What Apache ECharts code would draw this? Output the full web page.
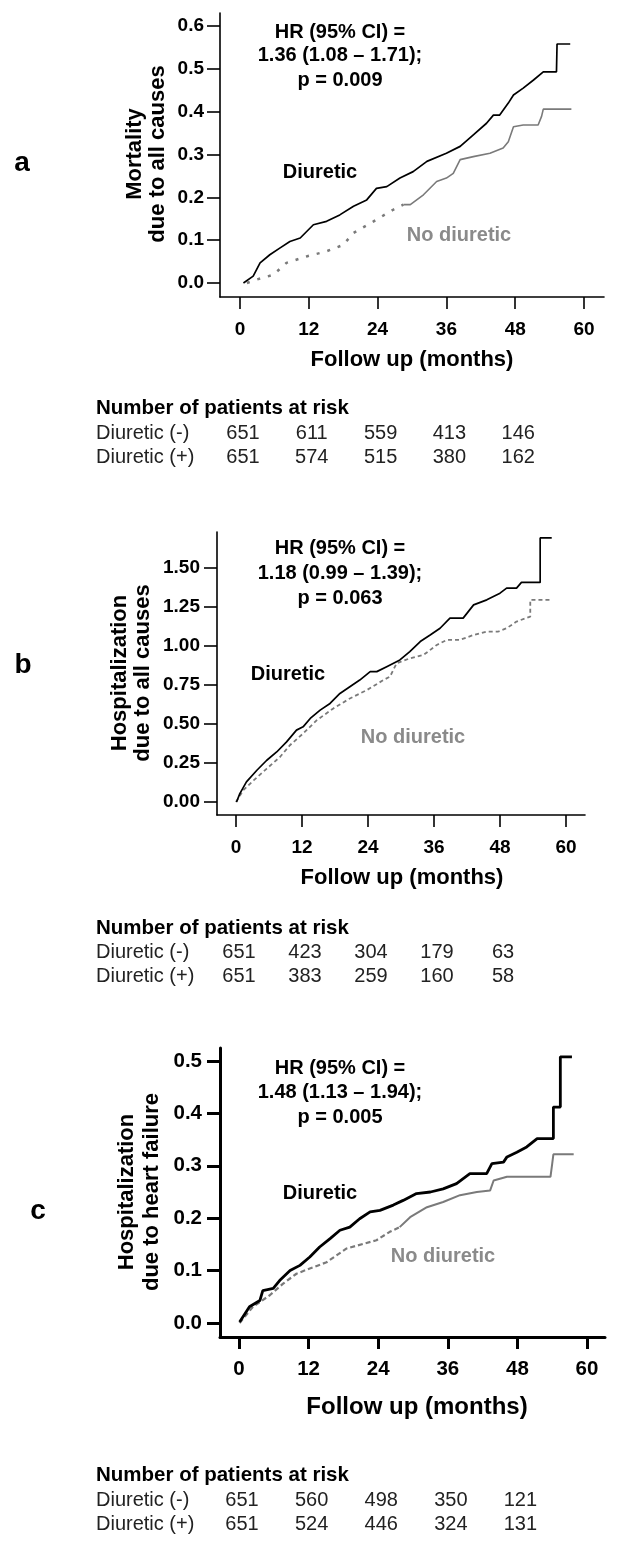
<!DOCTYPE html>
<html><head><meta charset="utf-8">
<script src="https://cdn.jsdelivr.net/npm/echarts@6/dist/echarts.min.js"></script>
<style>html,body{margin:0;padding:0;background:#fff}#c{width:630px;height:1551px}</style>
</head><body><div id="c"></div>
<script>
// ---------- tick values ----------
const months = [0, 12, 24, 36, 48, 60];
const yTicksA = [0, 0.1, 0.2, 0.3, 0.4, 0.5, 0.6];
const yTicksB = [0, 0.25, 0.5, 0.75, 1.0, 1.25, 1.5];
const yTicksC = [0, 0.1, 0.2, 0.3, 0.4, 0.5];
const riskMonths = [0, 12, 24, 36, 48];

// ---------- panel a: mortality ----------
const aDiurT = [0.6,2.3,3.5,5.2,7.0,8.7,10.5,12.8,15.1,17.4,19.8,22.1,23.8,25.6,27.9,30.2,32.6,36.0,38.4,40.7,43.0,44.2,45.3,46.8,47.7,49.4,51.2,52.9,55.2,55.3,57.6];
const aDiurY = [0,0.016,0.047,0.066,0.082,0.097,0.105,0.136,0.144,0.159,0.179,0.194,0.221,0.225,0.245,0.260,0.284,0.303,0.319,0.346,0.373,0.392,0.392,0.420,0.439,0.455,0.474,0.493,0.493,0.558,0.558];
const aNoEarlyT = [1.2,2.9,5.8,8.1,11.6,15.1,18.0,19.8,23.3,26.7,28.5];
const aNoEarlyY = [0,0.008,0.019,0.047,0.062,0.074,0.089,0.117,0.144,0.171,0.183];
const aNoLateT = [28.5,29.7,32.0,34.3,36.0,37.2,38.4,40.7,43.6,45.9,46.8,47.7,49.4,52.0,52.6,52.9,57.8];
const aNoLateY = [0.183,0.183,0.206,0.237,0.245,0.256,0.288,0.295,0.303,0.315,0.330,0.365,0.369,0.369,0.389,0.406,0.406];
const riskA_neg = [651, 611, 559, 413, 146];
const riskA_pos = [651, 574, 515, 380, 162];

// ---------- panel b: hospitalization all causes ----------
const bDiurT = [0.1,0.7,1.9,3.8,5.6,7.4,9.2,11.0,12.2,13.5,15.3,17.1,18.9,20.7,22.5,24.4,25.6,27.4,29.8,31.6,33.5,35.3,37.1,38.9,41.3,43.2,45.6,48.0,49.2,51.0,51.9,55.3,55.3,57.4];
const bDiurY = [0,0.054,0.129,0.204,0.268,0.321,0.386,0.461,0.482,0.536,0.589,0.632,0.696,0.739,0.782,0.836,0.836,0.868,0.911,0.964,1.029,1.071,1.114,1.179,1.179,1.264,1.296,1.339,1.371,1.371,1.408,1.408,1.693,1.693];
const bNoT = [0,1.3,3.2,5.6,8.0,9.8,12.2,14.7,17.7,20.7,23.8,26.8,28.0,29.2,31.6,34.1,36.5,38.3,40.7,43.2,45.6,47.7,49.2,51.0,53.5,53.5,57.1];
const bNoY = [0,0.075,0.139,0.214,0.289,0.364,0.439,0.525,0.600,0.664,0.718,0.782,0.804,0.889,0.921,0.943,1.007,1.039,1.039,1.071,1.093,1.093,1.114,1.157,1.189,1.296,1.296];
const riskB_neg = [651, 423, 304, 179, 63];
const riskB_pos = [651, 383, 259, 160, 58];

// ---------- panel c: hospitalization heart failure ----------
const cDiurT = [0.1,1.8,3.6,4.1,5.9,7.0,8.8,10.5,12.2,13.9,15.7,17.4,19.1,20.8,22.6,24.3,26.6,28.3,30.6,33.0,35.2,37.5,39.8,42.7,43.6,45.6,46.2,47.9,49.6,51.4,54.2,54.2,55.4,55.4,57.4];
const cDiurY = [0.002,0.031,0.043,0.062,0.066,0.081,0.100,0.110,0.126,0.145,0.161,0.177,0.183,0.199,0.212,0.215,0.225,0.234,0.247,0.250,0.256,0.266,0.285,0.285,0.304,0.307,0.317,0.326,0.336,0.352,0.352,0.412,0.412,0.508,0.508];
const cNoEarlyT = [0.1,2.4,5.3,7.6,9.9,12.2,15.1,18.5,21.4,23.7,26.0,27.7];
const cNoEarlyY = [0,0.031,0.053,0.075,0.094,0.104,0.116,0.142,0.151,0.158,0.174,0.183];
const cNoLateT = [27.7,29.5,32.4,35.2,38.1,41.0,43.3,43.9,46.2,53.7,54.0,54.2,57.7];
const cNoLateY = [0.183,0.202,0.221,0.231,0.244,0.250,0.253,0.272,0.279,0.279,0.304,0.322,0.322];
const riskC_neg = [651, 560, 498, 350, 121];
const riskC_pos = [651, 524, 446, 324, 131];

const rowLabels = ['Diuretic (-)', 'Diuretic (+)'];
const riskTitle = 'Number of patients at risk';

// ---------- build ----------
const FONT = '"Liberation Sans", Arial, Helvetica, sans-serif';
const zip = (t, y) => t.map((v, i) => [v, y[i]]);
const chart = echarts.init(document.getElementById('c'));

function xAxisCfg(g, min, max, lw, fs, margin) {
  return { type: 'value', gridIndex: g, min, max, splitLine: { show: false },
    axisLine: { show: true, onZero: false, lineStyle: { color: '#000', width: lw } },
    axisTick: { show: true, customValues: months, length: 12, lineStyle: { color: '#000', width: lw } },
    axisLabel: { customValues: months, margin, color: '#000', fontFamily: FONT, fontWeight: 'bold', fontSize: fs } };
}
function yAxisCfg(g, min, max, ticks, dec, lw, fs, margin) {
  return { type: 'value', gridIndex: g, min, max, splitLine: { show: false },
    axisLine: { show: true, onZero: false, lineStyle: { color: '#000', width: lw } },
    axisTick: { show: true, customValues: ticks, length: 13, lineStyle: { color: '#000', width: lw } },
    axisLabel: { customValues: ticks, margin, color: '#000', fontFamily: FONT, fontWeight: 'bold', fontSize: fs,
      formatter: v => Number(v).toFixed(dec) } };
}
function line(g, data, color, width, type, z) {
  return { type: 'line', xAxisIndex: g, yAxisIndex: g, data, symbol: 'none', showSymbol: false,
    lineStyle: { color, width, type, cap: 'butt' }, z, silent: true };
}
const BLACK = '#000', GRAY = '#7a7a7a';

chart.setOption({
  animation: false,
  backgroundColor: '#fff',
  grid: [
    { left: 220, top: 13, width: 384, height: 284 },
    { left: 217, top: 532, width: 368, height: 283 },
    { left: 220, top: 1048, width: 385, height: 289 }
  ],
  xAxis: [
    xAxisCfg(0, -3.49, 63.49, 1.6, 19, 23),
    xAxisCfg(1, -3.45, 63.45, 1.6, 19, 23),
    xAxisCfg(2, -3.28, 63.1, 3, 20.5, 22)
  ],
  yAxis: [
    yAxisCfg(0, -0.0327, 0.6304, yTicksA, 1, 1.6, 19, 16),
    yAxisCfg(1, -0.083, 1.731, yTicksB, 2, 1.6, 19, 17),
    yAxisCfg(2, -0.0267, 0.5248, yTicksC, 1, 3, 20.5, 18)
  ],
  series: [
    line(0, zip(aNoEarlyT, aNoEarlyY), GRAY, 2.5, [3, 8], 2),
    line(0, zip(aNoLateT, aNoLateY), GRAY, 1.6, 'solid', 2),
    line(0, zip(aDiurT, aDiurY), BLACK, 1.7, 'solid', 3),
    line(1, zip(bNoT, bNoY), GRAY, 1.8, [4, 3], 2),
    line(1, zip(bDiurT, bDiurY), BLACK, 1.7, 'solid', 3),
    line(2, zip(cNoEarlyT, cNoEarlyY), GRAY, 2.2, [5, 3], 2),
    line(2, zip(cNoLateT, cNoLateY), GRAY, 2, 'solid', 2),
    line(2, zip(cDiurT, cDiurY), BLACK, 2.8, 'solid', 3)
  ]
});

// ---------- texts ----------
function txt(x, y, text, size, opts) {
  opts = opts || {};
  return { type: 'text', x, y, rotation: opts.rot || 0, silent: true,
    style: { text, fill: opts.fill || '#000', font: (opts.weight || 'bold') + ' ' + size + 'px ' + FONT,
      align: opts.align || 'center', verticalAlign: 'middle', lineHeight: opts.lh || size * 1.2 } };
}
const G = [];
// panel letters
G.push(txt(22, 163, 'a', 28), txt(23, 665, 'b', 28), txt(38, 1211, 'c', 28));
// HR annotations
const hrA = ['HR (95% CI) =', '1.36 (1.08 \u2013 1.71);', 'p = 0.009'];
const hrB = ['HR (95% CI) =', '1.18 (0.99 \u2013 1.39);', 'p = 0.063'];
const hrC = ['HR (95% CI) =', '1.48 (1.13 \u2013 1.94);', 'p = 0.005'];
[[hrA, [32, 55, 80]], [hrB, [548, 573, 598]], [hrC, [1068, 1092, 1117]]].forEach(([lines, ys]) => {
  lines.forEach((s, i) => G.push(txt(340, ys[i], s, 20)));
});
// curve labels
G.push(txt(320, 172, 'Diuretic', 20), txt(459, 235, 'No diuretic', 20, { fill: '#8a8a8a' }));
G.push(txt(288, 674, 'Diuretic', 20), txt(413, 737, 'No diuretic', 20, { fill: '#8a8a8a' }));
G.push(txt(320, 1193, 'Diuretic', 20), txt(443, 1256, 'No diuretic', 20, { fill: '#8a8a8a' }));
// y titles
G.push(txt(146, 154, 'Mortality\ndue to all causes', 22, { rot: Math.PI / 2, lh: 23 }));
G.push(txt(131, 673, 'Hospitalization\ndue to all causes', 22, { rot: Math.PI / 2, lh: 23 }));
G.push(txt(139, 1192, 'Hospitalization\ndue to heart failure', 22, { rot: Math.PI / 2, lh: 25 }));
// x titles
G.push(txt(412, 360, 'Follow up (months)', 22));
G.push(txt(402, 878, 'Follow up (months)', 22));
G.push(txt(417, 1407, 'Follow up (months)', 24));
// risk tables
const tables = [
  { g: 0, ys: [408, 433, 457], rows: [riskA_neg, riskA_pos] },
  { g: 1, ys: [928, 952, 976], rows: [riskB_neg, riskB_pos] },
  { g: 2, ys: [1475, 1500, 1524], rows: [riskC_neg, riskC_pos] }
];
tables.forEach(t => {
  G.push(txt(96, t.ys[0], riskTitle, 20.5, { align: 'left' }));
  t.rows.forEach((row, r) => {
    G.push(txt(96, t.ys[r + 1], rowLabels[r], 20, { align: 'left', weight: 'normal', fill: '#222' }));
    row.forEach((n, i) => {
      const px = chart.convertToPixel({ xAxisIndex: t.g }, riskMonths[i]) + 3;
      G.push(txt(px, t.ys[r + 1], String(n), 20, { weight: 'normal', fill: '#222' }));
    });
  });
});
chart.setOption({ graphic: G });
</script>
</body></html>
